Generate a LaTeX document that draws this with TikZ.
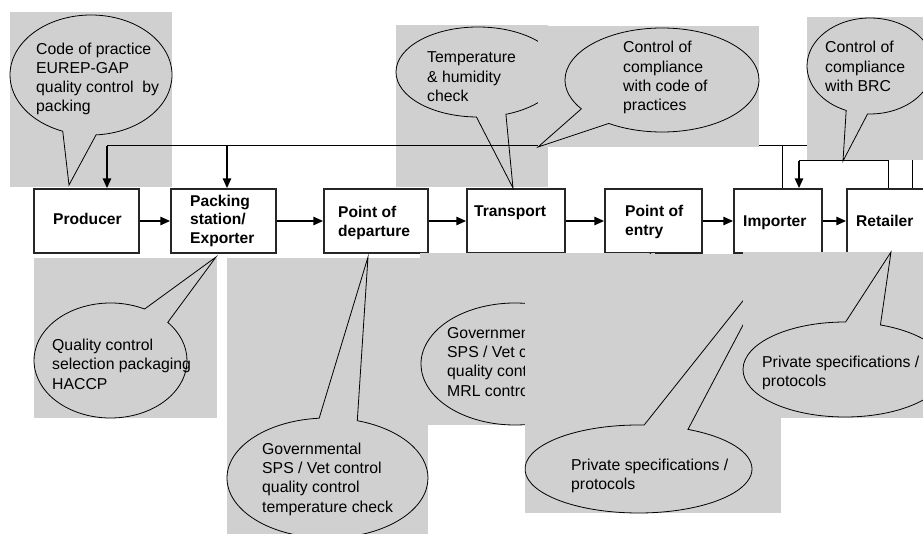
\documentclass[tikz,border=0pt]{standalone}
\usepackage{fontspec}
\setmainfont{Liberation Sans}
\usetikzlibrary{arrows.meta,shapes.callouts}
\definecolor{calloutgray}{RGB}{208,208,208}

\begin{document}
\begin{tikzpicture}[x=1pt,y=-1pt,>={Triangle[length=10pt,width=8pt]},
  font=\fontsize{15.8}{19.3}\selectfont]
\tikzstyle{stage}=[rectangle,draw=black!85,line width=1.3pt,fill=white,
minimum height=64pt,inner sep=0pt]
\tikzstyle{stagelabel}=[font=\fontsize{15.6}{18.7}\selectfont\bfseries,
align=left,inner sep=0pt,anchor=base west]
\tikzstyle{panel}=[fill=calloutgray]
\tikzstyle{bubble}=[ellipse callout,draw=black,fill=calloutgray,
line width=0.8pt,inner sep=0pt]
\tikzstyle{note}=[align=left,inner sep=0pt,anchor=base west]
\tikzstyle{flow}=[->,line width=2.4pt]
\tikzstyle{fb}=[line width=1pt]
\useasboundingbox (0,0) rectangle (923,534);
\clip (0,0) rectangle (923,534);

% chain of stages (labels sit on the baseline of their last line)
\node[stage,minimum width=105pt] (prod) at (86.5,221) {};
\node[stage,minimum width=105pt] (pack) at (223.5,221) {};
\node[stage,minimum width=104pt] (dep) at (376,221) {};
\node[stage,minimum width=98pt] (trans) at (516,221) {};
\node[stage,minimum width=97pt] (entry) at (653.5,221) {};
\node[stage,minimum width=88pt] (imp) at (778,221) {};
\node[stage,minimum width=103pt] (ret) at (898.5,221) {};

\node[stagelabel] (prodtxt) at (53,225) {Producer};
\node[stagelabel] (packtxt) at (190,243.5) {Packing\\station/\\Exporter};
\node[stagelabel] (deptxt) at (338,236.5) {Point of\\departure};
\node[stagelabel] (transtxt) at (474,217) {Transport};
\node[stagelabel] (entrytxt) at (625,235.7) {Point of\\entry};
\node[stagelabel] (imptxt) at (743,227) {Importer};
\node[stagelabel] (rettxt) at (856,227) {Retailer};

\path[flow] (prod) edge (pack);
\path[flow] (pack) edge (dep);
\path[flow] (dep) edge (trans);
\path[flow] (trans) edge (entry);
\path[flow] (entry) edge (imp);
\path[flow] (imp) edge (ret);

% callouts above
\fill[panel] (10,12) rectangle (172,187);
\node[bubble,minimum width=162pt,minimum height=120pt,
callout absolute pointer={(69,185)},callout pointer arc=24] (copb) at (91,75) {};
\node[note] (copt) at (36,112) {Code of practice\\EUREP-GAP\\quality control\ \ by\\packing};

\fill[panel] (396,25) rectangle (548,187);
\node[bubble,minimum width=164pt,minimum height=90pt,
callout absolute pointer={(513,188)},callout pointer arc=21] (tempb) at (478,72) {};
\node[note] (tempt) at (427,101.6) {Temperature\\\& humidity\\check};

% feedback loops
\coordinate (loopA) at (912,146);
\coordinate (loopB) at (107,146);
\coordinate (loopP) at (227,146);
\coordinate (loopI) at (782,146);
\coordinate (loopC) at (888,161);
\coordinate (loopD) at (799,161);
\draw[fb] (loopA |- ret.north) -- (loopA) -- (loopB);
\draw[fb] (loopI) -- (loopI |- imp.north);
\draw[flow] (loopB) -- (loopB |- prod.north);
\draw[flow] (loopP) -- (loopP |- pack.north);
\draw[fb] (loopC |- ret.north) -- (loopC) -- (loopD);
\draw[flow] (loopD) -- (loopD |- imp.north);

\fill[panel] (538,26) rectangle (759,147);
\node[bubble,minimum width=194pt,minimum height=104pt,
callout absolute pointer={(538,147)},callout pointer arc=23] (cpb) at (662,80) {};
\node[note] (cpt) at (623,110.9) {Control of\\compliance\\with code of\\practices};

\fill[panel] (807,17) rectangle (930,160);
\node[bubble,minimum width=126pt,minimum height=96pt,
callout absolute pointer={(843,161)},callout pointer arc=20] (brcb) at (870,66) {};
\node[note] (brct) at (825,91.6) {Control of\\compliance\\with BRC};

% callouts below
\fill[panel] (34,258) rectangle (217,418);
\node[bubble,minimum width=153pt,minimum height=115pt,
callout absolute pointer={(216,257)},callout pointer arc=22] (qcb) at (110.5,360.5) {};
\node[note] (qct) at (52,389) {Quality control\\selection packaging\\HACCP};

\fill[panel] (227,258) rectangle (428,540);
\node[bubble,minimum width=201pt,minimum height=120pt,
callout absolute pointer={(368,257)},callout pointer arc=22] (govb) at (327.5,478) {};
\node[note] (govt) at (262,512) {Governmental\\SPS / Vet control\\quality control\\temperature check};

\fill[panel] (420,253) rectangle (655,425);
\node[bubble,minimum width=188pt,minimum height=122pt,
callout absolute pointer={(650,254)},callout pointer arc=22] (gov2b) at (515,364) {};
\node[note] (gov2t) at (447,396) {Governmental\\SPS / Vet control\\quality control\\MRL control};

\fill[panel] (525,254) rectangle (781,513);
\node[bubble,minimum width=227pt,minimum height=88pt,
callout absolute pointer={(781,253)},callout pointer arc=23] (privb) at (638.5,469) {};
\node[note] (privt) at (571,489.3) {Private specifications /\\protocols};

\fill[panel] (743,252) rectangle (930,418);
\node[bubble,minimum width=204pt,minimum height=95pt,
callout absolute pointer={(891,252)},callout pointer arc=20] (priv2b) at (845,369.5) {};
\node[note] (priv2t) at (762,386.3) {Private specifications /\\protocols};

\end{tikzpicture}
\end{document}
